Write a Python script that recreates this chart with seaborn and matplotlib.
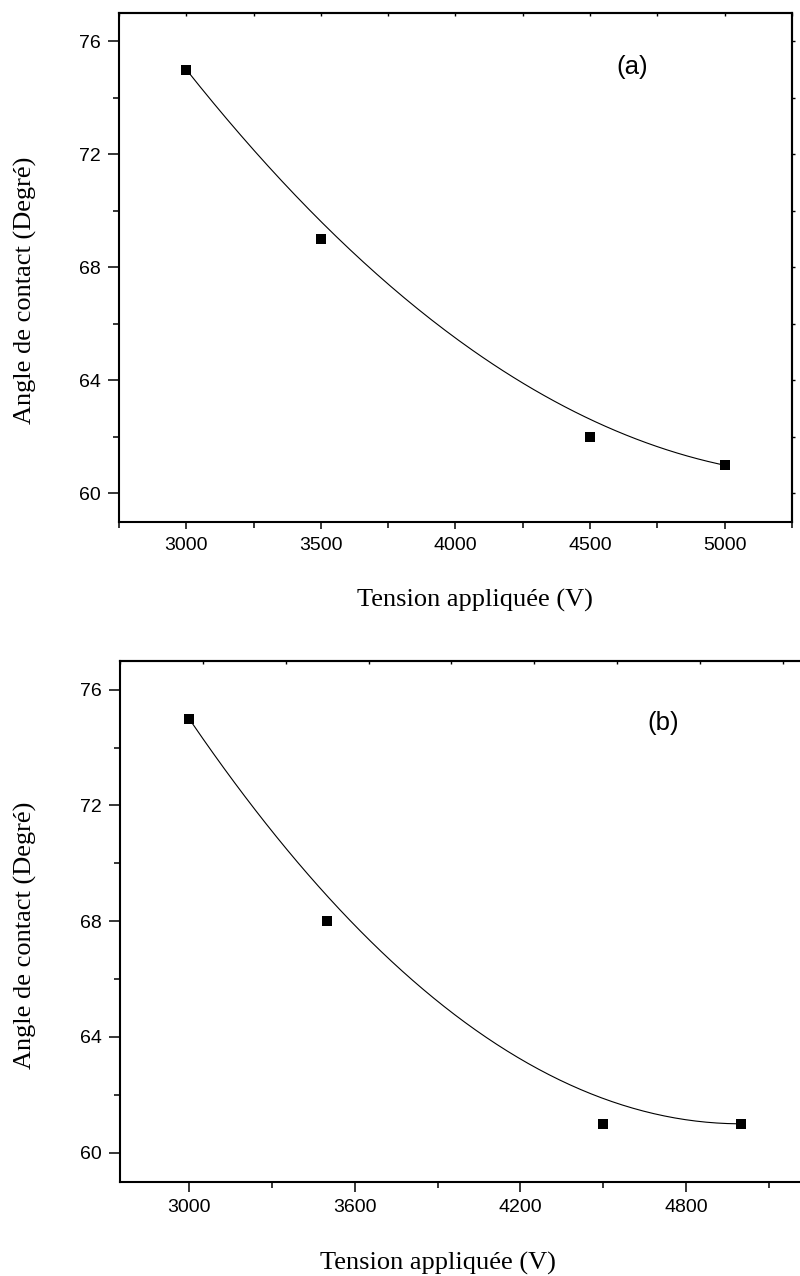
import numpy as np
import pandas as pd
import matplotlib
matplotlib.use("Agg")
import matplotlib.pyplot as plt
import seaborn as sns
from matplotlib.ticker import MultipleLocator

# Contact angle versus applied voltage, two series
voltage_a = [3000, 3500, 4500, 5000]
angle_a = [75, 69, 62, 61]

voltage_b = [3000, 3500, 4500, 5000]
angle_b = [75, 68, 61, 61]

y_ticks = [60, 64, 68, 72, 76]
x_ticks_a = [3000, 3500, 4000, 4500, 5000]
x_ticks_b = [3000, 3600, 4200, 4800]

tags = ["(a)", "(b)"]
x_label = "Tension appliquée (V)"
y_label = "Angle de contact (Degré)"

sns.set_style("ticks")
plt.rcParams["font.family"] = ["Liberation Sans", "DejaVu Sans"]
plt.rcParams["axes.linewidth"] = 1.5
plt.rcParams["text.color"] = "black"
plt.rcParams["axes.labelcolor"] = "black"
plt.rcParams["xtick.color"] = "black"
plt.rcParams["ytick.color"] = "black"
SERIF = ["Liberation Serif", "DejaVu Serif"]


def quad_bspline(xs, ys, n=80):
    """Clamped quadratic B-spline using the data points as control points."""
    p = np.column_stack([xs, ys]).astype(float)
    m = len(p)
    segs = []
    for i in range(1, m - 1):
        start = p[0] if i == 1 else (p[i - 1] + p[i]) / 2
        end = p[-1] if i == m - 2 else (p[i] + p[i + 1]) / 2
        t = np.linspace(0, 1, n)[:, None]
        seg = (1 - t) ** 2 * start + 2 * t * (1 - t) * p[i] + t ** 2 * end
        segs.append(seg if i == 1 else seg[1:])
    c = np.vstack(segs)
    return c[:, 0], c[:, 1]


def draw_panel(ax, x, y, xticks, minor_step, tag, tag_pos, xlab_pos, ylab_pos,
               bottom_len, bottom_pad):
    cx, cy = quad_bspline(x, y)
    curve = pd.DataFrame({"V": cx, "A": cy})
    pts = pd.DataFrame({"V": x, "A": y})
    sns.lineplot(data=curve, x="V", y="A", ax=ax, color="black", lw=0.8,
                 sort=False, estimator=None)
    sns.scatterplot(data=pts, x="V", y="A", ax=ax, marker="s", s=46,
                    color="black", linewidth=0, zorder=3)

    ax.set_xlim(2750, 5250)
    ax.set_ylim(59, 77)
    ax.set_xticks(xticks)
    ax.set_xticklabels([str(v) for v in xticks])
    ax.xaxis.set_minor_locator(MultipleLocator(minor_step))
    ax.set_yticks(y_ticks)
    ax.set_yticklabels([str(v) for v in y_ticks])
    ax.yaxis.set_minor_locator(MultipleLocator(2))

    ax.tick_params(axis="x", which="major", direction="out", length=bottom_len,
                   width=1.1, pad=bottom_pad, labelsize=14, colors="black")
    ax.tick_params(axis="x", which="minor", direction="out", length=4,
                   width=1.1, colors="black")
    ax.tick_params(axis="y", which="major", direction="out", length=8,
                   width=1.1, pad=5, labelsize=14, colors="black")
    ax.tick_params(axis="y", which="minor", direction="out", length=4,
                   width=1.1, colors="black")

    for s in ax.spines.values():
        s.set_visible(True)
        s.set_linewidth(1.5)
        s.set_color("black")

    # small mirrored ticks on the top and right frames
    top = ax.secondary_xaxis("top")
    top.set_xticks(np.arange(2750, 5251, minor_step))
    top.tick_params(direction="in", length=2, width=1, labeltop=False,
                    colors="black")
    top.spines["top"].set_linewidth(1.5)
    right = ax.secondary_yaxis("right")
    right.set_yticks(np.arange(60, 77, 2))
    right.tick_params(direction="out", length=2.5, width=1, labelright=False,
                      colors="black")
    right.spines["right"].set_linewidth(1.5)

    ax.set_xlabel(x_label, fontsize=19, family=SERIF, va="center",
                  color="black")
    ax.xaxis.set_label_coords(*xlab_pos)
    ax.set_ylabel(y_label, fontsize=19, family=SERIF, va="center",
                  color="black")
    ax.yaxis.set_label_coords(*ylab_pos)

    ax.text(tag_pos[0], tag_pos[1], tag, transform=ax.transAxes,
            fontsize=18.5, ha="center", va="center", color="black")


fig = plt.figure(figsize=(8, 12.76), dpi=100)
ax_a = fig.add_axes([0.14875, 0.5911, 0.84125, 0.3987])
ax_b = fig.add_axes([0.15, 0.0739, 0.8629, 0.4083])

draw_panel(ax_a, voltage_a, angle_a, x_ticks_a, 250, tags[0],
           (0.763, 0.893), (0.529, -0.154), (-0.1397, 0.455), 5, 6)
draw_panel(ax_b, voltage_b, angle_b, x_ticks_b, 300, tags[1],
           (0.787, 0.881), (0.461, -0.156), (-0.1376, 0.473), 7.5, 5)

fig.savefig("out.png", dpi=100)
